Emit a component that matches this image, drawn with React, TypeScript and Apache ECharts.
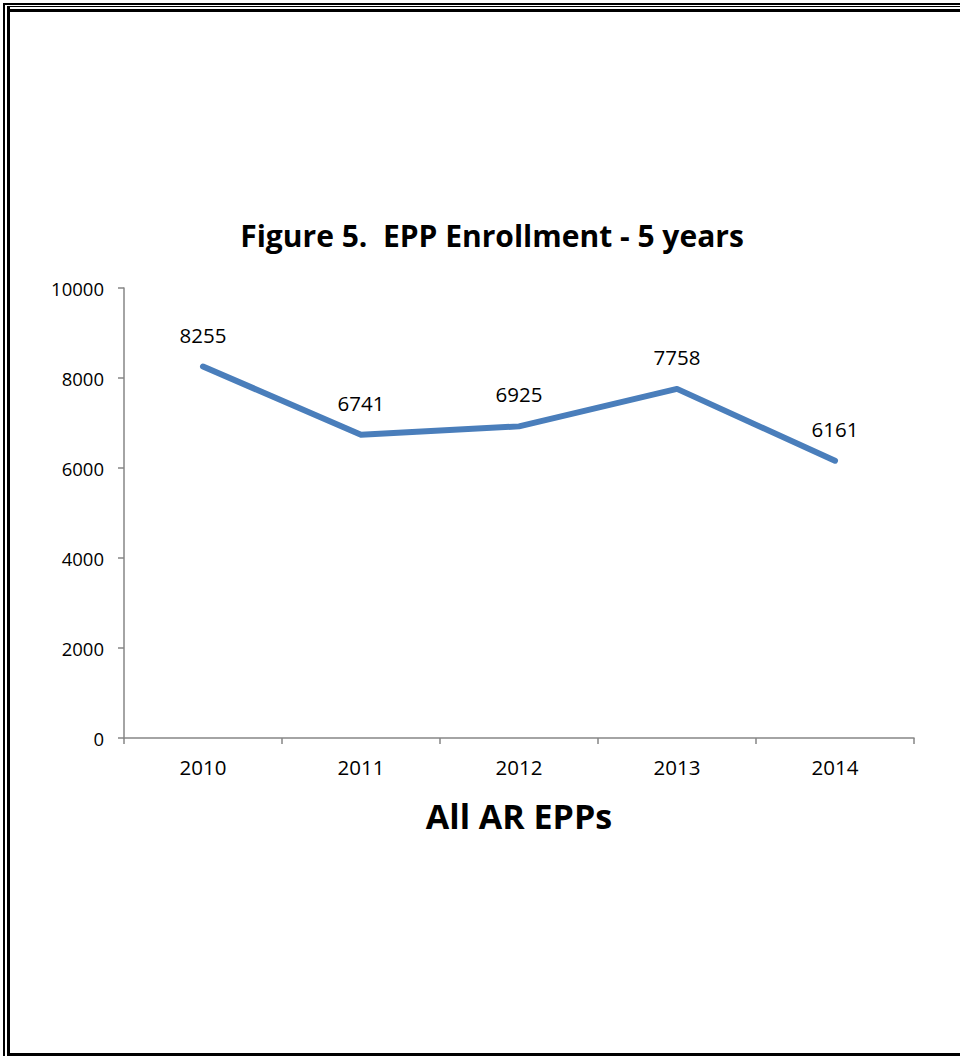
import React, { useEffect, useRef } from "react";
import * as echarts from "echarts";

const categories = ["2010", "2011", "2012", "2013", "2014"];
const enrollment = [8255, 6741, 6925, 7758, 6161];
const yTicks = [0, 2000, 4000, 6000, 8000, 10000];

export default function App() {
  const ref = useRef<HTMLDivElement>(null);
  useEffect(() => {
    document.body.style.margin = "0";
    const chart = echarts.init(ref.current!, null, { renderer: "svg" });
    const font = "'Open Sans', sans-serif";
    chart.setOption({
      animation: false,
      backgroundColor: "#ffffff",
      title: {
        text: "Figure 5.  EPP Enrollment - 5 years",
        left: 487,
        textAlign: "center",
        top: 215,
        textStyle: { fontFamily: font, fontSize: 30, fontWeight: "bold", color: "#000" },
      },
      grid: { left: 124, right: 46, top: 288, bottom: 318, containLabel: false },
      xAxis: {
        type: "category",
        data: categories,
        boundaryGap: true,
        name: "All AR EPPs",
        nameLocation: "middle",
        nameGap: 61,
        nameTextStyle: { fontFamily: font, fontSize: 34, fontWeight: "bold", color: "#000" },
        axisLine: { lineStyle: { color: "#868686", width: 1.5 } },
        axisTick: { show: true, length: 6, inside: false, lineStyle: { color: "#868686", width: 1.5 } },
        axisLabel: { fontFamily: font, fontSize: 20.5, color: "#000", margin: 18 },
      },
      yAxis: {
        type: "value",
        min: yTicks[0],
        max: yTicks[yTicks.length - 1],
        interval: 2000,
        axisLine: { show: true, lineStyle: { color: "#868686", width: 1.5 } },
        axisTick: { show: true, length: 6, lineStyle: { color: "#868686", width: 1.5 } },
        splitLine: { show: false },
        axisLabel: {
          fontFamily: font,
          fontSize: 18.5,
          color: "#000",
          margin: 20,
          formatter: (v: number) => String(v),
        },
      },
      series: [
        {
          type: "line",
          data: enrollment,
          symbol: "circle",
          symbolSize: 1,
          showSymbol: true,
          itemStyle: { color: "rgba(0,0,0,0)" },
          lineStyle: { color: "#4a7ebb", width: 6, cap: "round", join: "round" },
          label: {
            show: true,
            position: "top",
            distance: 21,
            fontFamily: font,
            fontSize: 20.5,
            color: "#000",
          },
        },
      ],
      graphic: [
        { type: "rect", shape: { x: 3, y: 3, width: 980, height: 2 }, style: { fill: "#000" } },
        { type: "rect", shape: { x: 7, y: 6, width: 980, height: 1 }, style: { fill: "#000" } },
        { type: "rect", shape: { x: 7, y: 9, width: 980, height: 3 }, style: { fill: "#000" } },
        { type: "rect", shape: { x: 3, y: 3, width: 2, height: 1060 }, style: { fill: "#000" } },
        { type: "rect", shape: { x: 7, y: 6, width: 3, height: 1060 }, style: { fill: "#000" } },
        { type: "rect", shape: { x: 7, y: 1053, width: 980, height: 3 }, style: { fill: "#000" } },
      ],
    });
    return () => chart.dispose();
  }, []);
  return <div ref={ref} style={{ width: 960, height: 1056 }} />;
}
